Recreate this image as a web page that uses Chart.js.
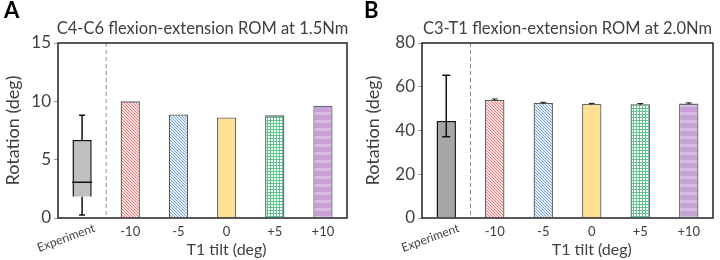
<!DOCTYPE html>
<html>
<head>
<meta charset="utf-8">
<script src="https://cdn.jsdelivr.net/npm/chart.js@4.4.1/dist/chart.umd.min.js"></script>
<style>
  body { margin: 0; background: #fff; }
  .wrap { display: flex; width: 720px; height: 260px; }
  .panel { position: relative; width: 360px; height: 260px; }
</style>
</head>
<body>
<div class="wrap">
  <div class="panel"><canvas id="chartA" width="360" height="260"></canvas></div>
  <div class="panel"><canvas id="chartB" width="360" height="260"></canvas></div>
</div>
<script>
const FONT = 'Lato, "Open Sans", sans-serif';

const categories = ['Experiment', '-10', '-5', '0', '+5', '+10'];

// panel A: C4-C6 at 1.5Nm
const simA = [null, 10.0, 8.87, 8.62, 8.8, 9.63];
const expBoxA = [0.25, 1.83, 3.06, 6.68, 8.8]; // min, q1, median, q3, max

// panel B: C3-T1 at 2.0Nm
const simB = [null, 54.0, 52.6, 52.1, 52.0, 52.3];
const simErrB = [null, 0.4, 0.3, 0.3, 0.3, 0.3];
const expMeanB = 44.4;
const expRangeB = [37.2, 65.3];

function makePattern(kind) {
    const c = document.createElement('canvas');
    const s = kind === 'purple' ? 8 : 3;
    c.width = s; c.height = s;
    const g = c.getContext('2d');
    g.fillStyle = '#fff';
    g.fillRect(0, 0, s, s);
    if (kind === 'red' || kind === 'blue') {
        g.fillStyle = kind === 'red' ? '#ffe1e1' : '#e2edf9';
        g.fillRect(0, 0, s, s);
        g.fillStyle = kind === 'red' ? '#f07a7c' : '#7ea6d6';
        for (let i = 0; i < s; i++) g.fillRect(i, i, 1, 1);
    } else if (kind === 'green') {
        g.fillStyle = '#5cc48c';
        g.fillRect(0, 0, s, 1);
        g.fillRect(0, 0, 1, s);
    } else if (kind === 'purple') {
        g.fillStyle = '#c8a2d7'; g.fillRect(0, 0, s, s);
        g.fillStyle = '#d7bce3'; g.fillRect(0, 0, s, 3);
    }
    return g.createPattern(c, 'repeat');
}

const fills = ['#bfbfbf', makePattern('red'), makePattern('blue'), '#ffdf91', makePattern('green'), makePattern('purple')];

// box, whiskers, error bars, divider, frame and custom labels
const extras = {
    id: 'extras',
    afterDatasetsDraw(chart, args, opts) {
        const ctx = chart.ctx;
        const x = chart.scales.x, y = chart.scales.y;
        const area = chart.chartArea;
        ctx.save();
        // dashed divider between experiment and simulations
        const xd = (x.getPixelForValue(0) + x.getPixelForValue(1)) / 2;
        ctx.strokeStyle = '#8c8c8c'; ctx.lineWidth = 1;
        ctx.setLineDash([4, 3]);
        ctx.beginPath(); ctx.moveTo(xd, area.top); ctx.lineTo(xd, area.bottom); ctx.stroke();
        ctx.setLineDash([]);
        ctx.strokeStyle = '#111'; ctx.lineWidth = 1.5;
        if (opts.box) {
            const [mn, q1, md, q3, mx] = opts.box;
            const cx = x.getPixelForValue(0);
            const hw = 10;
            ctx.beginPath();
            ctx.moveTo(cx - hw, y.getPixelForValue(md)); ctx.lineTo(cx + hw, y.getPixelForValue(md));
            ctx.moveTo(cx, y.getPixelForValue(q3)); ctx.lineTo(cx, y.getPixelForValue(mx));
            ctx.moveTo(cx - 3, y.getPixelForValue(mx)); ctx.lineTo(cx + 3, y.getPixelForValue(mx));
            ctx.moveTo(cx, y.getPixelForValue(q1)); ctx.lineTo(cx, y.getPixelForValue(mn));
            ctx.moveTo(cx - 3, y.getPixelForValue(mn)); ctx.lineTo(cx + 3, y.getPixelForValue(mn));
            ctx.stroke();
        }
        if (opts.range) {
            const cx = x.getPixelForValue(0);
            ctx.beginPath();
            ctx.moveTo(cx, y.getPixelForValue(opts.range[0])); ctx.lineTo(cx, y.getPixelForValue(opts.range[1]));
            ctx.moveTo(cx - 4, y.getPixelForValue(opts.range[0])); ctx.lineTo(cx + 4, y.getPixelForValue(opts.range[0]));
            ctx.moveTo(cx - 4, y.getPixelForValue(opts.range[1])); ctx.lineTo(cx + 4, y.getPixelForValue(opts.range[1]));
            ctx.stroke();
        }
        if (opts.err) {
            ctx.lineWidth = 1;
            opts.err.forEach((e, i) => {
                if (e == null) return;
                const v = opts.values[i];
                const cx = x.getPixelForValue(i);
                ctx.beginPath();
                ctx.moveTo(cx - 3, y.getPixelForValue(v + e)); ctx.lineTo(cx + 3, y.getPixelForValue(v + e));
                ctx.moveTo(cx, y.getPixelForValue(v + e)); ctx.lineTo(cx, y.getPixelForValue(v - e));
                ctx.stroke();
            });
        }
        // plot frame
        ctx.strokeStyle = '#222'; ctx.lineWidth = 1.5;
        ctx.strokeRect(area.left, area.top, area.right - area.left, area.bottom - area.top);
        // rotated experiment label
        ctx.fillStyle = '#404040';
        ctx.font = '12px ' + FONT;
        ctx.translate(x.getPixelForValue(0) - 16, area.bottom + 20);
        ctx.rotate(-20 * Math.PI / 180);
        ctx.textAlign = 'center'; ctx.textBaseline = 'middle';
        ctx.fillText(categories[0], 0, 0);
        ctx.setTransform(1, 0, 0, 1, 0, 0);
        // x axis title centred on simulations
        ctx.font = '16px ' + FONT;
        ctx.textAlign = 'center';
        ctx.fillText('T1 tilt (deg)', (x.getPixelForValue(1) + x.getPixelForValue(5)) / 2, area.bottom + 32);
        // panel letter and title
        ctx.fillStyle = '#000';
        ctx.font = 'bold 22px ' + FONT;
        ctx.textAlign = 'left'; ctx.textBaseline = 'top';
        ctx.fillText(opts.letter, 4, 0);
        ctx.fillStyle = '#404040';
        ctx.font = '16.5px ' + FONT;
        ctx.textAlign = 'center'; ctx.textBaseline = 'middle';
        ctx.fillText(opts.title, (area.left + area.right) / 2, 29);
        ctx.restore();
    }
};

function makeChart(id, data, ymax, step, padRight, yWidth, extraOpts, expColor) {
    const colors = fills.slice();
    colors[0] = expColor;
    return new Chart(document.getElementById(id), {
        type: 'bar',
        data: {
            labels: categories,
            datasets: [{
                data: data,
                backgroundColor: colors,
                borderColor: ['#111', '#5a5a5a', '#5a5a5a', '#6a6a6a', '#5a5a5a', '#6a6a6a'],
                borderWidth: [1.5, 1.3, 1.3, 1.3, 1.3, 1.3],
                barPercentage: 0.4,
                categoryPercentage: 1
            }]
        },
        options: {
            responsive: false,
            animation: false,
            layout: { padding: { top: 43, right: padRight, left: 0, bottom: 0 } },
            plugins: {
                legend: { display: false },
                tooltip: { enabled: false },
                extras: extraOpts
            },
            scales: {
                x: {
                    grid: { display: false },
                    border: { display: false },
                    afterFit: s => { s.height = 42; },
                    ticks: {
                        color: '#404040',
                        font: { family: FONT, size: 13 },
                        padding: -2,
                        maxRotation: 0,
                        callback: (v, i) => i === 0 ? '' : categories[i]
                    }
                },
                y: {
                    min: 0, max: ymax,
                    afterFit: s => { s.width = yWidth; },
                    grid: { drawOnChartArea: false, tickLength: 4, color: '#999' },
                    border: { display: false },
                    ticks: {
                        stepSize: step,
                        color: '#404040',
                        font: { family: FONT, size: 17 },
                        padding: 3
                    },
                    title: {
                        display: true,
                        text: 'Rotation (deg)',
                        color: '#404040',
                        font: { family: FONT, size: 18 },
                        padding: { top: 2, bottom: 0 }
                    }
                }
            }
        },
        plugins: [extras]
    });
}

const dataA = simA.slice();
dataA[0] = [expBoxA[1], expBoxA[3]];
makeChart('chartA', dataA, 15, 5, 13, 58, {
    letter: 'A', title: 'C4-C6 flexion-extension ROM at 1.5Nm', box: expBoxA
}, '#bfbfbf');

const dataB = simB.slice();
dataB[0] = expMeanB;
makeChart('chartB', dataB, 80, 20, 7, 62, {
    letter: 'B', title: 'C3-T1 flexion-extension ROM at 2.0Nm',
    range: expRangeB, err: simErrB, values: simB
}, '#a6a6a6');
</script>
</body>
</html>
